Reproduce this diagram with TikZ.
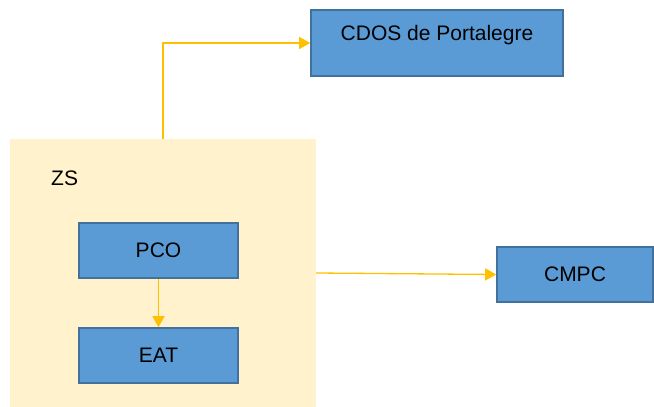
\documentclass[tikz,border=0pt]{standalone}
\usepackage{fontspec}
\setmainfont{Liberation Sans}
\usetikzlibrary{arrows.meta}
\definecolor{boxfill}{HTML}{5B9BD5}
\definecolor{boxline}{HTML}{41719C}
\definecolor{zsfill}{HTML}{FFF2CC}
\definecolor{arrcol}{HTML}{FFC000}
\tikzset{
  bluebox/.style={rectangle, fill=boxfill, draw=boxline, line width=1.6pt, inner sep=0pt, anchor=center, font=\fontsize{21}{25}\selectfont},
  zone/.style={rectangle, fill=zsfill, draw=none, inner sep=0pt, minimum width=306pt, minimum height=268pt},
  arr/.style={draw=arrcol, line width=1.3pt, -{Triangle[length=11pt,width=12pt]}},
  txt/.style={inner sep=0pt, font=\fontsize{21}{25}\selectfont}
}
\begin{document}
\begin{tikzpicture}[x=1pt,y=-1pt]
\useasboundingbox (0,0) rectangle (654,407);
\node[zone] (zs) at (163,273) {};
\node[txt, anchor=west] (zslabel) at (51,178) {ZS};
\node[bluebox, minimum width=252pt, minimum height=66pt, label={[txt,yshift=8pt]center:CDOS de Portalegre}] (cdos) at (437,43) {};
\node[bluebox, minimum width=159pt, minimum height=55pt] (pco) at (158.5,250.5) {PCO};
\node[bluebox, minimum width=159pt, minimum height=55pt] (eat) at (158.5,355.5) {EAT};
\node[bluebox, minimum width=156pt, minimum height=55pt] (cmpc) at (575,274.5) {CMPC};
\coordinate (zsout) at (163,139);
\draw[arr] (zsout) |- (cdos.west);
\draw[arr] (zs.east) -- (cmpc.west);
\draw[arr] (pco.south) -- (eat.north);
\end{tikzpicture}
\end{document}
